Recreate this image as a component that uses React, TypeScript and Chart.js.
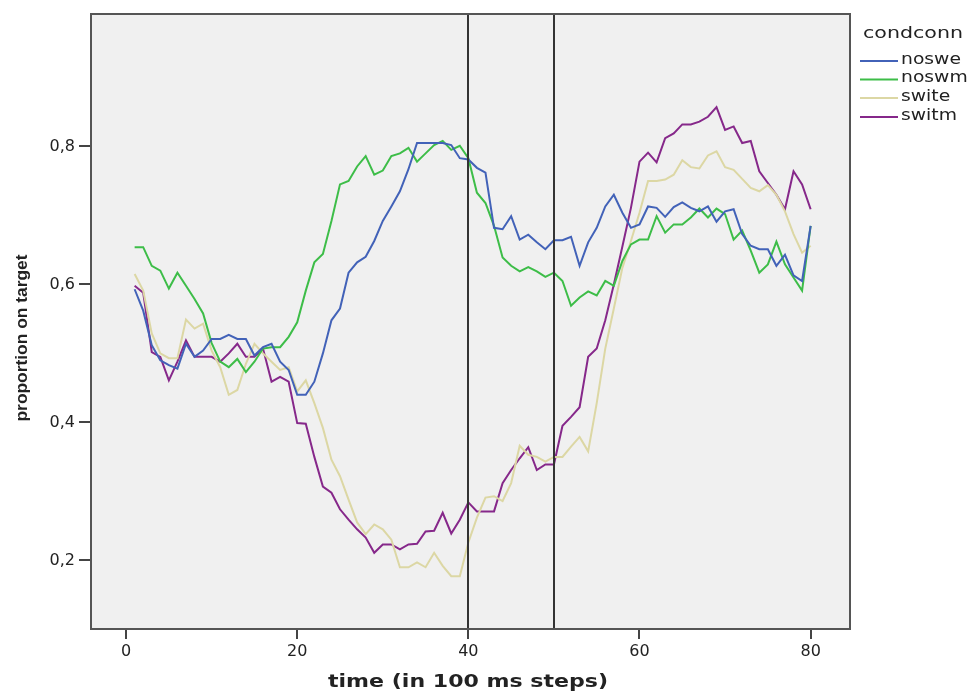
import React, { useEffect, useRef } from "react";
import { Chart, registerables } from "chart.js";

Chart.register(...registerables);

const timeSteps = Array.from({ length: 80 }, (_, i) => i + 1);

const noswe = [
  0.593, 0.562, 0.512, 0.49, 0.483, 0.478, 0.514, 0.495, 0.504, 0.521,
  0.521, 0.527, 0.521, 0.521, 0.497, 0.509, 0.514, 0.488, 0.476, 0.44,
  0.44, 0.459, 0.5, 0.548, 0.565, 0.617, 0.632, 0.64, 0.663, 0.692,
  0.713, 0.735, 0.767, 0.805, 0.805, 0.805, 0.805, 0.802, 0.783, 0.781,
  0.769, 0.762, 0.682, 0.68, 0.699, 0.665, 0.672, 0.661, 0.651, 0.664,
  0.664, 0.669, 0.627, 0.661, 0.682, 0.713, 0.73, 0.704, 0.682, 0.687,
  0.713, 0.711, 0.698, 0.712, 0.719, 0.711, 0.706, 0.713, 0.691, 0.706,
  0.709, 0.673, 0.656, 0.651, 0.651, 0.627, 0.643, 0.613, 0.605, 0.685,
];

const noswm = [
  0.654, 0.654, 0.627, 0.62, 0.594, 0.617, 0.598, 0.579, 0.558, 0.515,
  0.488, 0.48, 0.492, 0.473, 0.488, 0.507, 0.509, 0.509, 0.524, 0.545,
  0.591, 0.632, 0.644, 0.692, 0.745, 0.75, 0.771, 0.786, 0.759, 0.765,
  0.786, 0.79, 0.798, 0.778, 0.79, 0.802, 0.808, 0.795, 0.801, 0.783,
  0.733, 0.718, 0.685, 0.639, 0.627, 0.619, 0.625, 0.619, 0.611, 0.617,
  0.605, 0.569, 0.581, 0.59, 0.584, 0.605, 0.598, 0.634, 0.658, 0.665,
  0.665, 0.699, 0.675, 0.687, 0.687, 0.697, 0.71, 0.697, 0.71, 0.702,
  0.665, 0.678, 0.649, 0.617, 0.629, 0.662, 0.629, 0.61, 0.591, 0.685,
];

const swite = [
  0.615, 0.591, 0.529, 0.5, 0.493, 0.493, 0.549, 0.536, 0.543, 0.504,
  0.48, 0.44, 0.447, 0.485, 0.514, 0.5, 0.488, 0.476, 0.48, 0.445,
  0.461, 0.428, 0.392, 0.346, 0.322, 0.288, 0.255, 0.238, 0.252, 0.245,
  0.23, 0.19, 0.19, 0.197, 0.19, 0.211, 0.192, 0.177, 0.177, 0.226,
  0.262, 0.291, 0.293, 0.286, 0.312, 0.366, 0.353, 0.35, 0.343, 0.35,
  0.35, 0.365, 0.379, 0.358, 0.428, 0.507, 0.565, 0.624, 0.663, 0.704,
  0.75, 0.75, 0.752, 0.759, 0.78, 0.77, 0.768, 0.787, 0.793, 0.77,
  0.766, 0.753, 0.74, 0.735, 0.744, 0.73, 0.706, 0.673, 0.646, 0.656,
];

const switm = [
  0.598, 0.588, 0.502, 0.495, 0.461, 0.488, 0.519, 0.495, 0.495, 0.495,
  0.488, 0.5, 0.514, 0.495, 0.495, 0.507, 0.459, 0.466, 0.459, 0.399,
  0.398, 0.35, 0.307, 0.298, 0.274, 0.259, 0.245, 0.233, 0.211, 0.223,
  0.223, 0.216, 0.223, 0.224, 0.242, 0.243, 0.269, 0.239, 0.259, 0.284,
  0.271, 0.271, 0.271, 0.312, 0.331, 0.348, 0.364, 0.331, 0.339, 0.339,
  0.395, 0.408, 0.422, 0.495, 0.507, 0.548, 0.6, 0.655, 0.711, 0.778,
  0.791, 0.777, 0.812, 0.819, 0.832, 0.832, 0.836, 0.843, 0.857, 0.824,
  0.829, 0.805, 0.808, 0.764, 0.747, 0.73, 0.709, 0.764, 0.745, 0.709,
];

const seriesNames = ["noswe", "noswm", "swite", "switm"];
const seriesValues = [noswe, noswm, swite, switm];
const seriesColors = ["#4262b8", "#3dbd48", "#dcd7a4", "#86288a"];

const xTicks = [0, 20, 40, 60, 80];
const yTicks = [0.2, 0.4, 0.6, 0.8];
const referenceLines = [40, 50];

const legendTitle = "condconn";
const xTitle = "time (in 100 ms steps)";
const yTitle = "proportion on target";

function drawStretched(
  ctx: CanvasRenderingContext2D,
  text: string,
  x: number,
  y: number,
  font: string,
  width: number,
  align: "left" | "center",
  rotate = false
) {
  ctx.save();
  ctx.font = font;
  ctx.fillStyle = "#222";
  ctx.textBaseline = "middle";
  ctx.textAlign = align;
  const w = ctx.measureText(text).width;
  const sx = width / w;
  ctx.translate(x, y);
  if (rotate) ctx.rotate(-Math.PI / 2);
  ctx.scale(sx, 1);
  ctx.fillText(text, 0, 0);
  ctx.restore();
}

const decorPlugin = {
  id: "decor",
  beforeDraw(chart: any) {
    const { ctx, chartArea: a } = chart;
    ctx.save();
    ctx.fillStyle = "#ffffff";
    ctx.fillRect(0, 0, chart.width, chart.height);
    ctx.fillStyle = "#f0f0f0";
    ctx.fillRect(a.left, a.top, a.right - a.left, a.bottom - a.top);
    ctx.restore();
  },
  afterDatasetsDraw(chart: any) {
    const { ctx, chartArea: a } = chart;
    const xs = chart.scales.x;
    ctx.save();
    ctx.strokeStyle = "#333";
    ctx.lineWidth = 2;
    for (const v of referenceLines) {
      const px = Math.round(xs.getPixelForValue(v));
      ctx.beginPath();
      ctx.moveTo(px, a.top);
      ctx.lineTo(px, a.bottom);
      ctx.stroke();
    }
    ctx.strokeStyle = "#555";
    ctx.lineWidth = 2;
    ctx.strokeRect(a.left, a.top, a.right - a.left, a.bottom - a.top);
    ctx.restore();
  },
  afterDraw(chart: any) {
    const { ctx } = chart;
    // axis titles
    drawStretched(ctx, xTitle, 468, 682, "bold 18px 'DejaVu Sans'", 280, "center");
    drawStretched(ctx, yTitle, 22, 338, "bold 17px 'Liberation Sans'", 167, "center", true);
    // legend
    drawStretched(ctx, legendTitle, 863, 34, "15px 'DejaVu Sans'", 100, "left");
    const rows = [61, 79.5, 98, 117];
    seriesNames.forEach((name, i) => {
      const y = rows[i];
      ctx.save();
      ctx.strokeStyle = seriesColors[i];
      ctx.lineWidth = 2;
      ctx.beginPath();
      ctx.moveTo(860, y);
      ctx.lineTo(898, y);
      ctx.stroke();
      ctx.restore();
      ctx.save();
      ctx.font = "15px 'DejaVu Sans'";
      const w = ctx.measureText(name).width;
      ctx.restore();
      drawStretched(ctx, name, 901, y - 1, "15px 'DejaVu Sans'", w * 1.25, "left");
    });
  },
};

export default function App() {
  const canvasRef = useRef<HTMLCanvasElement | null>(null);

  useEffect(() => {
    document.body.style.margin = "0";
    const canvas = canvasRef.current;
    if (!canvas) return;
    const chart = new Chart(canvas, {
      type: "line",
      data: {
        datasets: seriesNames.map((name, i) => ({
          label: name,
          data: seriesValues[i].map((v, j) => ({ x: timeSteps[j], y: v })),
          borderColor: seriesColors[i],
          backgroundColor: seriesColors[i],
          borderWidth: 2,
          pointRadius: 0,
          tension: 0,
          fill: false,
        })),
      },
      options: {
        animation: false,
        responsive: false,
        maintainAspectRatio: false,
        layout: { padding: { left: 0, top: 14, right: 121, bottom: 0 } },
        plugins: {
          legend: { display: false },
          tooltip: { enabled: false },
          title: { display: false },
        },
        scales: {
          x: {
            type: "linear",
            min: -4.1,
            max: 84.6,
            afterBuildTicks: (s: any) => {
              s.ticks = xTicks.map((v) => ({ value: v }));
            },
            afterFit: (s: any) => {
              s.height = 65;
            },
            grid: {
              display: true,
              drawOnChartArea: false,
              drawTicks: true,
              tickLength: 10,
              color: "#444",
              lineWidth: 2,
            },
            border: { display: false },
            ticks: {
              font: { family: "'DejaVu Sans'", size: 16 },
              color: "#222",
              padding: 3,
              maxRotation: 0,
              callback: (v: any) => String(v),
            },
          },
          y: {
            type: "linear",
            min: 0.1005,
            max: 0.992,
            afterBuildTicks: (s: any) => {
              s.ticks = yTicks.map((v) => ({ value: v }));
            },
            afterFit: (s: any) => {
              s.width = 91;
            },
            grid: {
              display: true,
              drawOnChartArea: false,
              drawTicks: true,
              tickLength: 12,
              color: "#444",
              lineWidth: 2,
            },
            border: { display: false },
            ticks: {
              font: { family: "'DejaVu Sans'", size: 16 },
              color: "#222",
              padding: 4,
              callback: (v: any) => Number(v).toFixed(1).replace(".", ","),
            },
          },
        },
      },
      plugins: [decorPlugin],
    });
    return () => chart.destroy();
  }, []);

  return (
    <div style={{ position: "absolute", left: 0, top: 0, width: 971, height: 694 }}>
      <canvas ref={canvasRef} width={971} height={694} style={{ width: 971, height: 694 }} />
    </div>
  );
}
